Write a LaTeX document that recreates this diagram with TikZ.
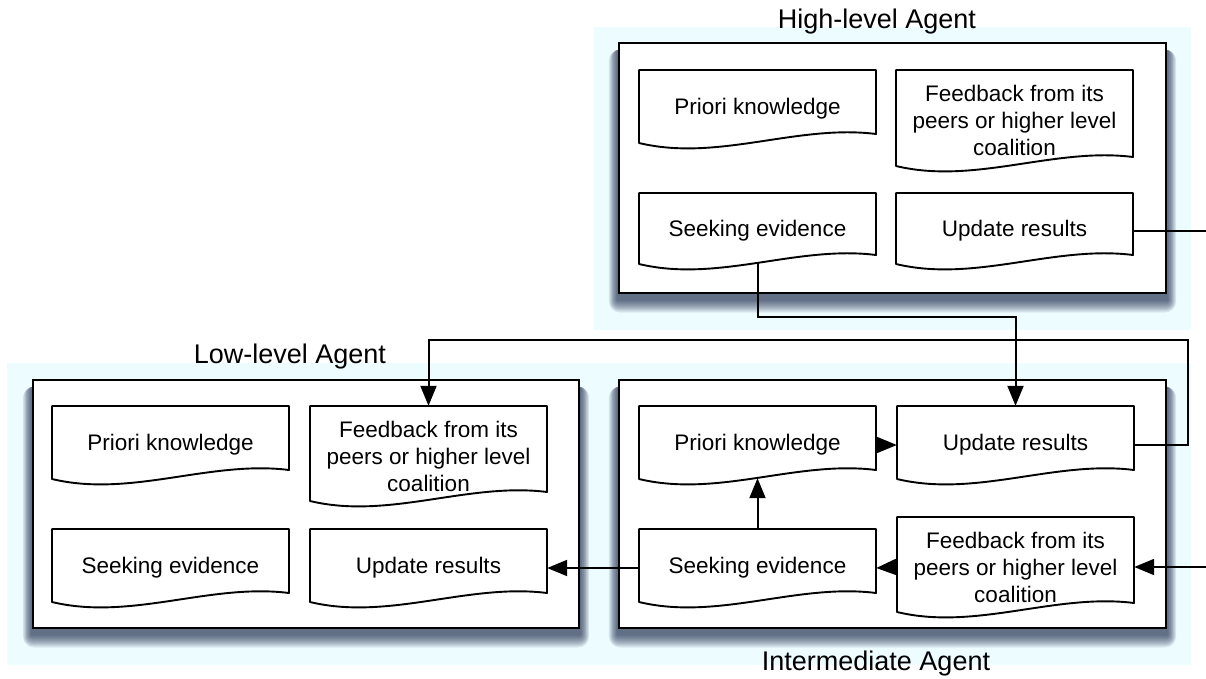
\documentclass[tikz,border=0pt]{standalone}
\usepackage{fontspec}
\setmainfont{Liberation Sans}
\usetikzlibrary{arrows.meta}

\definecolor{panelcyan}{RGB}{236,252,255}
\definecolor{shadowink}{RGB}{22,34,70}

\pgfdeclarelayer{panels}
\pgfdeclarelayer{shade}
\pgfsetlayers{panels,shade,main}

\tikzset{
  panel/.style={fill=panelcyan, draw=none},
  agentbox/.style={draw=black, line width=2.6pt, fill=white, inner sep=0pt},
  shadelayer/.style={fill=shadowink, fill opacity=0.085},
  docnode/.style={inner sep=0pt, align=center, font=\fontsize{22.5}{27}\selectfont},
  docline/.style={draw=black, line width=1.9pt, fill=white, line join=round},
  link/.style={draw=black, line width=2pt},
  arr/.style={link, -{Triangle[length=20pt,width=16pt]}},
  agenttitle/.style={font=\fontsize{27}{32}\selectfont, inner sep=0pt}
}

% document shape: flat top, straight sides, wavy bottom; node carries the text
% #1 name, #2 left, #3 top, #4 width, #5 height, #6 text
\newcommand\docbox[6]{%
  \pgfmathsetmacro\docLx{#2}%
  \pgfmathsetmacro\docRx{#2+#4}%
  \pgfmathsetmacro\docTy{#3}%
  \pgfmathsetmacro\docBy{#3+#5}%
  \draw[docline] (\docLx,\docTy) -- (\docRx,\docTy) -- (\docRx,\docBy-14)
    .. controls ({#2+2*#4/3},\docBy-24) and ({#2+#4/3},\docBy+14) .. (\docLx,\docBy-5) -- cycle;
  \node[docnode, minimum width=#4pt, minimum height=#5pt] (#1) at ({#2+#4/2},{#3+#5/2}) {#6};
}

\begin{document}
\begin{tikzpicture}[x=1pt,y=-1pt]
\useasboundingbox (0,0) rectangle (1206,679);

% background panels
\begin{pgfonlayer}{panels}
\fill[panel] (594,27) rectangle (1191,330);
\fill[panel] (7,363) rectangle (594,665);
\fill[panel] (594,363) rectangle (1191,665);
\end{pgfonlayer}

% agent frames
\node[agentbox, minimum width=547pt, minimum height=250pt] (high) at (892.5,168) {};
\node[agentbox, minimum width=546pt, minimum height=248pt] (low)  at (306,504) {};
\node[agentbox, minimum width=547pt, minimum height=248pt] (mid)  at (892.5,504) {};

% soft drop shadows: stacked translucent rectangles, growing downwards and sideways
\begin{pgfonlayer}{shade}
\foreach \f in {high,low,mid}{
  \foreach \e in {1,...,11}{
    \fill[shadelayer, rounded corners=\e pt]
      ([xshift=-0.8*\e pt, yshift=-5pt-1.2*\e pt]\f.south west) rectangle
      ([xshift=0.8*\e pt, yshift=-8pt]\f.north east);
  }
}
\end{pgfonlayer}

% titles
\node[agenttitle] (hightitle) at (877,22)  {High-level Agent};
\node[agenttitle] (lowtitle)  at (290,357) {Low-level Agent};
\node[agenttitle] (midtitle)  at (876,664) {Intermediate Agent};

% high-level agent
\docbox{hp}{639}{70}{237}{78}{Priori knowledge}
\docbox{hf}{896}{70}{237}{101}{Feedback from its\\peers or higher level\\coalition}
\docbox{hs}{639}{193}{237}{76}{Seeking evidence}
\docbox{hu}{896}{193}{237}{76}{Update results}

% low-level agent
\docbox{lp}{52}{406}{237}{78}{Priori knowledge}
\docbox{lf}{310}{406}{237}{100}{Feedback from its\\peers or higher level\\coalition}
\docbox{ls}{52}{529}{237}{78}{Seeking evidence}
\docbox{lu}{310}{529}{237}{78}{Update results}

% intermediate agent
\docbox{mp}{639}{406}{237}{78}{Priori knowledge}
\docbox{mu}{897}{406}{237}{78}{Update results}
\docbox{ms}{639}{529}{237}{78}{Seeking evidence}
\docbox{mf}{897}{517}{237}{100}{Feedback from its\\peers or higher level\\coalition}

% connector routing points
\coordinate (edgeR) at (1206,0);
\coordinate (loopTR) at (1188,340);

% connectors
\draw[arr] ([yshift=6pt]hs.south) |- ([yshift=89pt]mu.north) -- (mu.north);
\draw[arr] (mu.east) -| (loopTR) -| (lf.north);
\draw[link] (hu.east) -- (hu.east -| edgeR);
\draw[arr] (mf.east -| edgeR) -- (mf.east);
\draw[arr] (mf.west) -- (ms.east);
\draw[arr] (ms.north) -- ([yshift=6pt]mp.south);
\draw[arr] (mp.east) -- (mu.west);
\draw[arr] (ms.west) -- (lu.east);
\end{tikzpicture}
\end{document}
